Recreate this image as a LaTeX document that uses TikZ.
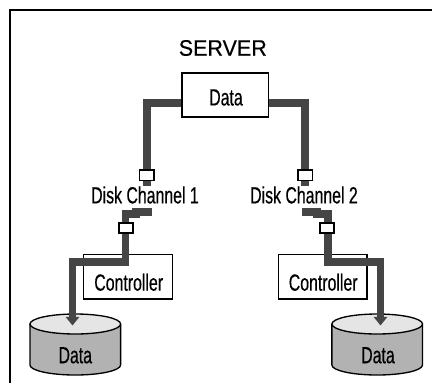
\documentclass[tikz,border=0pt]{standalone}
\usepackage{fontspec}
\setmainfont{Liberation Sans}
\newfontfamily\narrowfont[FakeStretch=0.68,FakeBold=0.4]{Liberation Sans}
\newfontfamily\titlefont[FakeStretch=0.96,FakeBold=0.4]{Liberation Sans}
\usetikzlibrary{arrows.meta,positioning}
\definecolor{pipegray}{gray}{0.27}
\tikzset{
	unitbox/.style={draw,line width=1pt,fill=white,inner sep=0pt},
	portbox/.style={draw,line width=1.2pt,fill=white,minimum width=10.6pt,minimum height=7.8pt,inner sep=0pt},
	pipe/.style={draw=pipegray,line width=5.8pt},
	pipeend/.style={pipe,-{Triangle[width=10pt,length=6.5pt]}},
	textlabel/.style={inner sep=0pt,font=\narrowfont\fontsize{17.5}{17.5}\selectfont},
	diskline/.style={draw,line width=1pt,line join=round}
}
\newcommand{\drawdisk}[1]{
	\draw[diskline,fill=black!30,shift={(#1)}] (-45.3,-20.7) -- (-45.3,20.3) arc[start angle=180,end angle=0,x radius=45.3,y radius=10] -- (45.3,-20.7) -- cycle;
	\draw[diskline,fill=black!10,shift={(#1)}] (0,-20.7) ellipse[x radius=45.3,y radius=10];
}
\begin{document}
\begin{tikzpicture}[x=0.75pt,y=-0.75pt]
	\useasboundingbox (0,0) rectangle (432,383);
	% outer frame, open at the bottom and right
	\draw[line width=1.5pt] (9.5,383) -- (9.5,9.8) -- (432,9.8);
	\node[inner sep=0pt,font=\titlefont\fontsize{16.8}{16.8}\selectfont] (server) at (222.8,48) {SERVER};
	\node[unitbox,minimum width=65pt,minimum height=33pt] (data) at (225.2,95) {};
	\node[unitbox,minimum width=66.5pt,minimum height=33.5pt] (ctrl1) at (128,276.7) {};
	\node[unitbox,minimum width=66.5pt,minimum height=33.5pt] (ctrl2) at (322.6,276.7) {};
	\drawdisk{75.3,344.7}
	\drawdisk{377.2,344.7}
	% free ends of the pipes
	\coordinate (top1) at (147,186);
	\coordinate (top2) at (305,186);
	\coordinate (stub1) at (151.7,212.3);
	\coordinate (stub2) at (302,212.3);
	\coordinate (tip1) at (72.5,325.5);
	\coordinate (tip2) at (380.5,325.5);
	\draw[pipe] (data.west |- 0,102.7) -| (top1);
	\draw[pipe] (data.east |- 0,102.7) -| (top2);
	\draw[pipeend] (stub1) -- (136,212.3) -- (136,214) -- (125.5,214) -- (125.5,262) -- (72.5,262) -- (tip1);
	\draw[pipeend] (stub2) -- (317,212.3) -- (317,214) -- (328.2,214) -- (328.2,262) -- (380.5,262) -- (tip2);
	\node[portbox] (port1) at (146.7,175.2) {};
	\node[portbox] (port2) at (305.3,175.2) {};
	\node[portbox] (port3) at (126.2,228) {};
	\node[portbox] (port4) at (327.2,228) {};
	% labels sit a little below the box centres
	\node[textlabel] (datatext) at (226,97.5) {Data};
	\node[textlabel] (chan1) at (145,195) {Disk Channel 1};
	\node[textlabel] (chan2) at (304,195) {Disk Channel 2};
	\node[textlabel] (ctrltext1) at (128.7,282.3) {Controller};
	\node[textlabel] (ctrltext2) at (323.2,282.3) {Controller};
	\node[textlabel] (disktext1) at (75.3,355.3) {Data};
	\node[textlabel] (disktext2) at (378,355.3) {Data};
\end{tikzpicture}
\end{document}
